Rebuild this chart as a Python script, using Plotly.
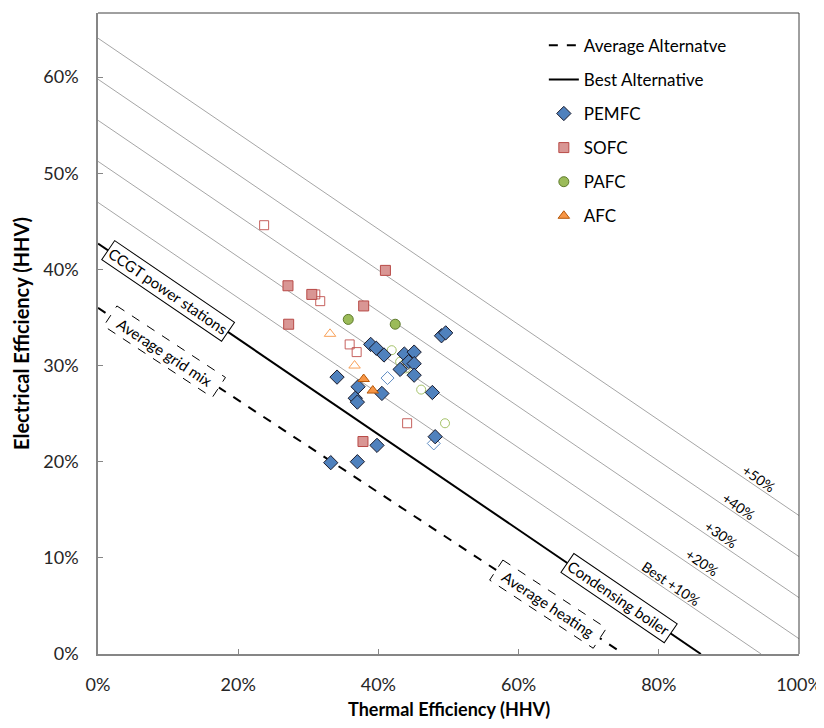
import math
import plotly.graph_objects as go

# ---- reference lines (electrical / thermal efficiency of separate production) ----
best_elec = 0.427
best_therm = 0.86
avg_elec = 0.36
avg_therm = 0.75
improvements = [0.1, 0.2, 0.3, 0.4, 0.5]
improvement_labels = ["Best +10%", "+20%", "+30%", "+40%", "+50%"]
improvement_label_x = [0.812, 0.856, 0.883, 0.909, 0.937]

# ---- fuel cell data (thermal %, electrical %) ----
pemfc_thermal = [38.9, 39.7, 40.8, 43.7, 45.1, 44.3, 45.1, 43.1, 45.1, 47.7, 49.0, 49.6,
                 34.1, 37.1, 40.5, 36.7, 37.0, 48.1, 39.8, 33.2, 37.0]
pemfc_electrical = [32.2, 31.8, 31.1, 31.2, 31.4, 30.4, 30.2, 29.6, 29.0, 27.2, 33.1, 33.4,
                    28.8, 27.8, 27.1, 26.6, 26.2, 22.6, 21.7, 19.9, 20.0]
pemfc_open_thermal = [41.3, 47.9]
pemfc_open_electrical = [28.7, 21.9]

sofc_thermal = [41.0, 27.1, 30.5, 37.9, 27.2, 37.8]
sofc_electrical = [39.9, 38.3, 37.4, 36.2, 34.3, 22.1]
sofc_open_thermal = [23.7, 31.0, 31.7, 35.9, 36.9, 44.1]
sofc_open_electrical = [44.6, 37.4, 36.7, 32.2, 31.4, 24.0]

pafc_thermal = [35.7, 42.4]
pafc_electrical = [34.8, 34.3]
pafc_open_thermal = [41.9, 43.1, 43.6, 43.9, 46.1, 49.5]
pafc_open_electrical = [31.6, 30.4, 30.1, 29.7, 27.5, 24.0]

afc_thermal = [39.2, 37.9]
afc_electrical = [27.4, 28.6]
afc_open_thermal = [33.1, 36.6]
afc_open_electrical = [33.3, 30.0]

x_ticks = [0, 0.2, 0.4, 0.6, 0.8, 1.0]
y_ticks = [0, 0.1, 0.2, 0.3, 0.4, 0.5, 0.6]
x_title = "Thermal Efficiency (HHV)"
y_title = "Electrical Efficiency (HHV)"

FONT = "Lato, 'Open Sans', sans-serif"
Y_MAX = 0.6667
# the page body has an 8px margin, so the figure is sized to fit the window
W, H = 808, 712
ML, MR, MT, MB = 90, 17, 5, 66
PW, PH = W - ML - MR, H - MT - MB
PX_X, PX_Y = PW / 1.0, PH / Y_MAX


def line_y(x, e, t, k=1.0):
    return e * (k - x / t)


fig = go.Figure()

# gray iso-saving lines
for imp in improvements:
    k = 1 + imp
    x_end = min(1.0, best_therm * k)
    xs = [0.0, x_end]
    ys = [line_y(v, best_elec, best_therm, k) for v in xs]
    fig.add_trace(go.Scatter(x=xs, y=ys, mode="lines", line=dict(color="#A6A6A6", width=1),
                             showlegend=False, hoverinfo="skip"))

fig.add_trace(go.Scatter(x=[0, avg_therm], y=[avg_elec, 0], mode="lines",
                         line=dict(color="black", width=2, dash="dash"),
                         name="Average Alternatve", legendgroup="a", legendrank=1))
fig.add_trace(go.Scatter(x=[0, best_therm], y=[best_elec, 0], mode="lines",
                         line=dict(color="black", width=2),
                         name="Best Alternative", legendgroup="b", legendrank=2))


def pct(v):
    return [a / 100 for a in v]


# open (hollow) markers
open_series = [
    (pemfc_open_thermal, pemfc_open_electrical, "diamond-open", "#4F81BD", 10),
    (sofc_open_thermal, sofc_open_electrical, "square-open", "#C0504D", 9),
    (pafc_open_thermal, pafc_open_electrical, "circle-open", "#9BBB59", 9),
    (afc_open_thermal, afc_open_electrical, "triangle-up-open", "#F79646", 10),
]
for xs, ys, sym, col, sz in open_series:
    fig.add_trace(go.Scatter(x=pct(xs), y=pct(ys), mode="markers", showlegend=False,
                             marker=dict(symbol=sym, size=sz, color=col, opacity=0.9,
                                         line=dict(width=1, color=col))))

filled_series = [
    ("PEMFC", pemfc_thermal, pemfc_electrical, "diamond", "#4F81BD", "#1a1a2a", 11, 3),
    ("SOFC", sofc_thermal, sofc_electrical, "square", "#D99694", "#B84A47", 10, 4),
    ("PAFC", pafc_thermal, pafc_electrical, "circle", "#9BBB59", "#5E7A2C", 10, 5),
    ("AFC", afc_thermal, afc_electrical, "triangle-up", "#F79646", "#B65708", 10, 6),
]
for name, xs, ys, sym, col, lc, sz, rk in filled_series:
    fig.add_trace(go.Scatter(x=pct(xs), y=pct(ys), mode="markers", name=name,
                             legendgroup=name, legendrank=rk,
                             marker=dict(symbol=sym, size=sz, color=col,
                                         line=dict(width=1, color=lc))))

ang_best = math.degrees(math.atan((best_elec * PX_Y) / (best_therm * PX_X)))
ang_avg = math.degrees(math.atan((avg_elec * PX_Y) / (avg_therm * PX_X)))

annotations = []
shapes = []


def boxed(text, x, e, t, ang, dashed, w_px, h_px):
    y = line_y(x, e, t)
    if dashed:
        th = math.radians(ang)
        ux, uy = math.cos(th), math.sin(th)
        vx, vy = -math.sin(th), math.cos(th)
        pts = []
        for a, b in [(-1, -1), (1, -1), (1, 1), (-1, 1)]:
            px = a * w_px / 2 * ux + b * h_px / 2 * vx
            py = a * w_px / 2 * uy + b * h_px / 2 * vy
            pts.append((x + px / PX_X, y - py / PX_Y))
        path = "M " + " L ".join(f"{p[0]:.5f},{p[1]:.5f}" for p in pts) + " Z"
        shapes.append(dict(type="path", path=path, xref="x", yref="y",
                           line=dict(color="black", width=1, dash="dash"),
                           fillcolor="white", layer="above"))
        annotations.append(dict(x=x, y=y, xref="x", yref="y", text=text, showarrow=False,
                                textangle=ang, font=dict(family=FONT, size=15, color="black")))
    else:
        annotations.append(dict(x=x, y=y, xref="x", yref="y", text=text, showarrow=False,
                                textangle=ang, bgcolor="white", bordercolor="black",
                                borderwidth=1, borderpad=2,
                                font=dict(family=FONT, size=15, color="black")))


boxed("CCGT power stations", 0.10, best_elec, best_therm, ang_best, False, 146, 22)
boxed("Average grid mix", 0.095, avg_elec, avg_therm, ang_avg, True, 130, 24)
boxed("Condensing boiler", 0.743, best_elec, best_therm, ang_best, False, 146, 22)
boxed("Average heating", 0.642, avg_elec, avg_therm, ang_avg, True, 124, 24)

for imp, lab, lx in zip(improvements, improvement_labels, improvement_label_x):
    ly = line_y(lx, best_elec, best_therm, 1 + imp)
    annotations.append(dict(x=lx, y=ly, xref="x", yref="y", text=lab, showarrow=False,
                            textangle=ang_best, yshift=7, xshift=4,
                            font=dict(family=FONT, size=14, color="black")))

# x-axis title placed as an annotation so it can sit close to the bottom edge
annotations.append(dict(x=0.5, y=-(701 - (H - MB)) / PH, xref="paper", yref="paper",
                        text=f"<b>{x_title}</b>", showarrow=False, yanchor="middle",
                        font=dict(family=FONT, size=18, color="black")))

# frame top/right
shapes.append(dict(type="line", xref="paper", yref="paper", x0=0, x1=1, y0=1, y1=1,
                   line=dict(color="#404040", width=1)))
shapes.append(dict(type="line", xref="paper", yref="paper", x0=1, x1=1, y0=0, y1=1,
                   line=dict(color="#404040", width=1)))

fig.update_layout(
    width=W, height=H, autosize=False,
    margin=dict(l=ML, r=MR, t=MT, b=MB, autoexpand=False),
    plot_bgcolor="white", paper_bgcolor="white",
    font=dict(family=FONT, size=18, color="#262626"),
    annotations=annotations, shapes=shapes,
    legend=dict(x=0.636, y=0.977, xanchor="left", yanchor="top",
                font=dict(family=FONT, size=17, color="black"),
                tracegroupgap=9, traceorder="grouped", bgcolor="rgba(0,0,0,0)"),
    xaxis=dict(range=[0, 1.0], tickvals=x_ticks, tickformat=".0%", showgrid=False,
               automargin=False, ticklabeloverflow="allow",
               zeroline=False, showline=True, linecolor="#868686", linewidth=1.5,
               ticks="inside", ticklen=5, tickcolor="#868686", ticklabelstandoff=14),
    yaxis=dict(range=[0, Y_MAX], tickvals=y_ticks, tickformat=".0%", showgrid=False,
               automargin=False,
               zeroline=False, showline=True, linecolor="#868686", linewidth=1.5,
               ticks="inside", ticklen=5, tickcolor="#868686", ticklabelstandoff=14,
               title=dict(text=f"<b>{y_title}</b>", standoff=8,
                          font=dict(family=FONT, size=20, color="black"))),
)

fig.write_html("out.html")
